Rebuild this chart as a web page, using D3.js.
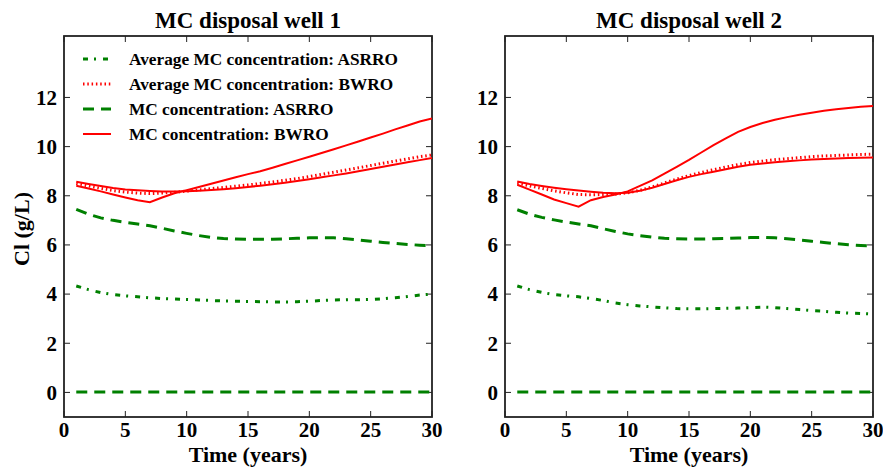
<!DOCTYPE html>
<html><head><meta charset="utf-8">
<script src="https://cdn.jsdelivr.net/npm/d3@7"></script>
<style>
html,body{margin:0;padding:0;background:#fff;}
svg text{font-family:"Liberation Serif","Times New Roman",serif;font-weight:bold;fill:#000;}
</style></head>
<body><svg id="c" width="883" height="469"></svg>
<script>
const years = [1,2,3,4,5,6,7,8,9,10,11,12,13,14,15,16,17,18,19,20,21,22,23,24,25,26,27,28,29,30];
const xTicks = [0,5,10,15,20,25,30];
const yTicks = [0,2,4,6,8,10,12];
const panelTitles = ["MC disposal well 1","MC disposal well 2"];
const legendLabels = ["Average MC concentration: ASRRO","Average MC concentration: BWRO","MC concentration: ASRRO","MC concentration: BWRO"];

// Well 1
const w1AvgASRRO = [4.33,4.18,4.06,3.98,3.93,3.89,3.85,3.82,3.80,3.78,3.76,3.74,3.72,3.71,3.70,3.69,3.68,3.68,3.69,3.71,3.74,3.76,3.77,3.77,3.78,3.81,3.85,3.90,3.96,4.00];
const w1AvgBWRO  = [8.50,8.40,8.30,8.21,8.15,8.11,8.09,8.11,8.14,8.19,8.24,8.29,8.34,8.39,8.44,8.50,8.56,8.63,8.70,8.78,8.87,8.96,9.05,9.14,9.23,9.32,9.41,9.50,9.59,9.66];
const w1ASRROa   = [7.45,7.25,7.10,7.00,6.92,6.85,6.78,6.68,6.57,6.47,6.38,6.31,6.26,6.24,6.23,6.23,6.23,6.25,6.27,6.29,6.30,6.29,6.25,6.20,6.15,6.10,6.06,6.02,5.99,5.97];
const w1ASRROb   = [0.02,0.02,0.02,0.02,0.02,0.02,0.02,0.02,0.02,0.02,0.02,0.02,0.02,0.02,0.02,0.02,0.02,0.02,0.02,0.02,0.02,0.02,0.02,0.02,0.02,0.02,0.02,0.02,0.02,0.02];
const w1BWROa    = [8.41,8.30,8.18,8.05,7.93,7.82,7.74,7.93,8.10,8.23,8.36,8.49,8.62,8.75,8.88,9.00,9.14,9.29,9.44,9.59,9.74,9.89,10.05,10.21,10.37,10.53,10.70,10.86,11.02,11.14];
const w1BWROb    = [8.57,8.48,8.40,8.32,8.26,8.22,8.19,8.17,8.17,8.18,8.20,8.23,8.27,8.31,8.36,8.41,8.47,8.53,8.60,8.67,8.75,8.83,8.91,9.00,9.09,9.18,9.27,9.36,9.45,9.54];

// Well 2
const w2AvgASRRO = [4.33,4.18,4.07,3.98,3.93,3.89,3.82,3.74,3.64,3.57,3.52,3.48,3.44,3.41,3.40,3.40,3.41,3.42,3.43,3.45,3.47,3.45,3.41,3.37,3.33,3.30,3.26,3.23,3.21,3.19];
const w2AvgBWRO  = [8.52,8.40,8.30,8.20,8.12,8.05,8.04,8.05,8.07,8.12,8.22,8.36,8.52,8.68,8.82,8.95,9.06,9.17,9.27,9.35,9.41,9.47,9.51,9.55,9.59,9.62,9.64,9.66,9.68,9.69];
const w2ASRROa   = [7.43,7.25,7.12,7.02,6.93,6.85,6.78,6.66,6.55,6.45,6.38,6.32,6.27,6.25,6.24,6.24,6.25,6.26,6.28,6.30,6.31,6.29,6.25,6.20,6.15,6.10,6.05,6.01,5.98,5.96];
const w2ASRROb   = [0.02,0.02,0.02,0.02,0.02,0.02,0.02,0.02,0.02,0.02,0.02,0.02,0.02,0.02,0.02,0.02,0.02,0.02,0.02,0.02,0.02,0.02,0.02,0.02,0.02,0.02,0.02,0.02,0.02,0.02];
const w2BWROa    = [8.45,8.25,8.05,7.85,7.70,7.56,7.82,7.95,8.05,8.18,8.40,8.63,8.90,9.18,9.46,9.76,10.06,10.34,10.60,10.80,10.96,11.09,11.20,11.30,11.38,11.46,11.52,11.57,11.62,11.65];
const w2BWROb    = [8.58,8.48,8.40,8.33,8.27,8.21,8.16,8.12,8.10,8.12,8.20,8.33,8.48,8.63,8.77,8.88,8.98,9.08,9.18,9.26,9.31,9.36,9.40,9.44,9.48,9.50,9.52,9.54,9.55,9.56];

const panels = [
  {avgA:w1AvgASRRO, avgB:w1AvgBWRO, asA:w1ASRROa, asB:w1ASRROb, bwA:w1BWROa, bwB:w1BWROb},
  {avgA:w2AvgASRRO, avgB:w2AvgBWRO, asA:w2ASRROa, asB:w2ASRROb, bwA:w2BWROa, bwB:w2BWROb}
];

const GREEN = "#008000", RED = "#ff0000";
const styles = {
  avgA:{color:GREEN, width:3, dash:"5,6,2,7"},
  avgB:{color:RED, width:3, dash:"1.5,2.8"},
  as:{color:GREEN, width:3, dash:"11,7"},
  bw:{color:RED, width:2, dash:null}
};

const svg = d3.select("#c");
const plotTop = 36, plotBottom = 417;
const lefts = [64, 505], plotW = 368;

const y = d3.scaleLinear().domain([-1, 14.5]).range([plotBottom, plotTop]);

panels.forEach((p, i) => {
  const x0 = lefts[i];
  const x = d3.scaleLinear().domain([0, 30]).range([x0, x0 + plotW]);
  const g = svg.append("g");

  g.append("rect").attr("x", x0).attr("y", plotTop).attr("width", plotW).attr("height", plotBottom - plotTop)
    .attr("fill", "none").attr("stroke", "#222").attr("stroke-width", 1.8);

  xTicks.forEach(t => {
    g.append("line").attr("x1", x(t)).attr("x2", x(t)).attr("y1", plotBottom).attr("y2", plotBottom - 6).attr("stroke", "#222").attr("stroke-width", 1);
    g.append("line").attr("x1", x(t)).attr("x2", x(t)).attr("y1", plotTop).attr("y2", plotTop + 6).attr("stroke", "#222").attr("stroke-width", 1);
    g.append("text").attr("x", x(t)).attr("y", plotBottom + 20).attr("text-anchor", "middle").attr("font-size", 21).text(t);
  });
  yTicks.forEach(v => {
    g.append("line").attr("x1", x0).attr("x2", x0 + 6).attr("y1", y(v)).attr("y2", y(v)).attr("stroke", "#222").attr("stroke-width", 1);
    g.append("line").attr("x1", x0 + plotW).attr("x2", x0 + plotW - 6).attr("y1", y(v)).attr("y2", y(v)).attr("stroke", "#222").attr("stroke-width", 1);
    g.append("text").attr("x", x0 - 7).attr("y", y(v)).attr("dy", "0.35em").attr("text-anchor", "end").attr("font-size", 21).text(v);
  });

  g.append("text").attr("x", x0 + plotW / 2).attr("y", 28).attr("text-anchor", "middle").attr("font-size", 23).text(panelTitles[i]);
  g.append("text").attr("x", x0 + plotW / 2).attr("y", 462).attr("text-anchor", "middle").attr("font-size", 22).text("Time (years)");

  const clipId = "clip" + i;
  svg.append("clipPath").attr("id", clipId).append("rect").attr("x", x0).attr("y", plotTop).attr("width", plotW).attr("height", plotBottom - plotTop);
  const lg = g.append("g").attr("clip-path", `url(#${clipId})`);

  const line = d3.line().x((d, k) => x(years[k])).y(d => y(d));
  const draw = (arr, st) => {
    const path = lg.append("path").datum(arr).attr("d", line).attr("fill", "none")
      .attr("stroke", st.color).attr("stroke-width", st.width);
    if (st.dash) path.attr("stroke-dasharray", st.dash);
  };
  draw(p.asB, styles.as);
  draw(p.asA, styles.as);
  draw(p.avgA, styles.avgA);
  draw(p.bwA, styles.bw);
  draw(p.bwB, styles.bw);
  draw(p.avgB, styles.avgB);
});

svg.append("text").attr("transform", "translate(29,229) rotate(-90)").attr("text-anchor", "middle").attr("font-size", 22).text("Cl (g/L)");

const legStyles = [styles.avgA, styles.avgB, styles.as, styles.bw];
const legY = [59, 84, 109, 134];
legendLabels.forEach((lab, k) => {
  const st = legStyles[k];
  const l = svg.append("line").attr("x1", 83).attr("x2", 111).attr("y1", legY[k]).attr("y2", legY[k])
    .attr("stroke", st.color).attr("stroke-width", st.width);
  if (st.dash) l.attr("stroke-dasharray", st.dash);
  svg.append("text").attr("x", 129).attr("y", legY[k]).attr("dy", "0.35em").attr("font-size", 17.3).text(lab);
});
</script></body></html>
